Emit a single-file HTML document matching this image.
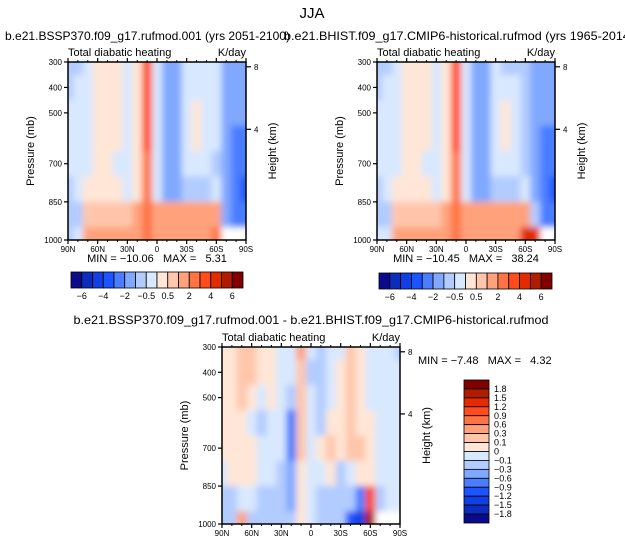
<!DOCTYPE html>
<html><head><meta charset="utf-8"><style>
html,body{margin:0;padding:0;background:#fff;}
svg{display:block;font-family:"Liberation Sans",sans-serif;}
</style></head><body>
<svg id="chart" width="625" height="545" viewBox="0 0 625 545" xmlns="http://www.w3.org/2000/svg">
<defs>
<filter id="smooth" x="-5%" y="-5%" width="110%" height="110%"><feGaussianBlur stdDeviation="3.2" edgeMode="duplicate"/></filter>
</defs>
<text x="312" y="18" font-size="15" text-anchor="middle">JJA</text>
<text x="5" y="40" font-size="12" textLength="285" lengthAdjust="spacingAndGlyphs">b.e21.BSSP370.f09_g17.rufmod.001 (yrs 2051-2100)</text>
<text x="284" y="40" font-size="12" textLength="350" lengthAdjust="spacingAndGlyphs">b.e21.BHIST.f09_g17.CMIP6-historical.rufmod (yrs 1965-2014)</text>
<text x="311" y="324" font-size="12" text-anchor="middle" textLength="475" lengthAdjust="spacingAndGlyphs">b.e21.BSSP370.f09_g17.rufmod.001 - b.e21.BHIST.f09_g17.CMIP6-historical.rufmod</text>
<g id="panels"></g>
</svg>
<script>
const latLabels = ["90N","60N","30N","0","30S","60S","90S"];
const pressureTicks = [300,400,500,700,850,1000];
const heightTicks = [8,4];
const rowPressures = [300,400,500,600,700,800,900,1000];
const fullLevels = [-6,-5,-4,-3,-2,-1,-0.5,0,0.5,1,2,3,4,5,6];
const fullLevelLabels = ["-6","-4","-2","-0.5","0.5","2","4","6"];
const diffLevels = [-1.8,-1.5,-1.2,-0.9,-0.6,-0.3,-0.1,0,0.1,0.3,0.6,0.9,1.2,1.5,1.8];
const diffLevelLabels = ["-1.8","-1.5","-1.2","-0.9","-0.6","-0.3","-0.1","0","0.1","0.3","0.6","0.9","1.2","1.5","1.8"];
const palette = ["#0a0a8c","#0c2cbc","#1040e4","#1c55ff","#4a7dff","#80a8ff","#b2ccff","#d8e8ff","#ffe6d6","#ffc6ac","#ffa27c","#ff7444","#ff4c1c","#e22c00","#b01c00","#800000"];
const futureField = [
 [-0.7,-0.7,-0.3,0.2,0.2,0.2,-0.3,0.2,3,-0.3,-1.5,-1.5,-0.3,-0.3,-0.3,-0.3,-1.2,-1.2,-1.2],
 [-0.7,-0.3,-0.3,0.2,0.2,0.2,-0.3,0.2,3.2,-0.3,-1.5,-1.5,-0.3,-0.3,-0.3,-0.3,-1.2,-1.2,-1.2],
 [-0.3,-0.3,-0.3,0.2,0.2,0.2,-0.3,0.3,3.2,-0.3,-1.5,-1.2,-0.3,0.2,-0.3,-0.3,-1.2,-1.5,-1.5],
 [-0.3,-0.3,-0.3,0.2,0.2,0.2,-0.3,0.2,3,-0.3,-1.5,-1.2,-0.3,0.2,-0.3,-0.3,-1.5,-2.5,-2.5],
 [-0.3,-0.3,-0.3,0.2,0.2,-0.3,-0.3,0.2,2.5,-0.3,-1.5,-1.5,-0.3,-0.3,-0.3,-0.7,-1.5,-2.5,-2.5],
 [-0.7,-0.3,0.3,0.3,0.2,0.2,-0.3,0.3,2.5,-0.3,-1.2,-1.2,-0.7,-0.7,-0.7,-0.3,-1.2,-2.5,-3.5],
 [-0.7,-0.7,0.7,0.7,0.7,0.7,0.7,1,2.5,1,1,1.2,1.2,1.2,1.5,1.5,-1.5,-3,-3],
 [-0.7,-0.3,1.2,1.2,1.2,1,1,1.5,2,1.5,1.5,1.5,1.5,1.5,1.5,2.5,null,null,null]];
const histField = [
 [-0.7,-0.7,-0.3,0.2,0.2,0.2,-0.3,0.2,3,-0.3,-1.5,-1.5,-0.3,-0.7,-0.7,-0.7,-1.2,-1.2,-1.2],
 [-0.7,-0.3,-0.3,0.2,0.2,0.2,-0.3,0.2,3,-0.3,-1.5,-1.5,-0.3,-0.3,-0.3,-0.7,-1.2,-1.2,-1.2],
 [-0.3,-0.3,-0.3,0.2,0.2,0.2,-0.3,0.3,3,-0.3,-1.5,-1.2,-0.3,0.2,-0.3,-0.7,-1.2,-1.5,-1.5],
 [-0.3,-0.3,-0.3,0.2,0.2,0.2,-0.3,0.2,3,-0.3,-1.5,-1.2,-0.3,0.2,-0.3,-0.7,-1.5,-2.5,-2.5],
 [-0.3,-0.3,-0.3,0.2,0.2,-0.3,-0.3,0.2,2.5,-0.3,-1.5,-1.5,-0.3,-0.3,-0.3,-0.7,-1.5,-2.5,-2.5],
 [-0.7,-0.3,0.3,0.3,0.2,0.2,-0.3,0.3,2.5,-0.3,-1.2,-1.2,-0.7,-0.7,-0.7,-0.3,-1.2,-2.5,-3.5],
 [-0.7,-0.7,0.7,0.7,0.7,0.7,0.7,1,2.5,1,1,1.2,1.2,1.2,1.5,1.5,-1,-3,-3],
 [-0.3,-0.3,1.2,1.2,1.2,1,1,1.5,2,1.5,1.5,1.5,1.5,1.5,1.5,4.5,4,null,null]];
const diffField = [
 [0.05,0.05,0.2,0.2,0.05,0.05,-0.05,-0.05,0.5,-0.05,-0.2,-0.05,-0.05,0.2,0.05,-0.05,-0.05,-0.05,-0.2],
 [0.05,0.05,0.2,0.2,0.05,0.05,-0.05,-0.05,0.2,-0.2,-0.2,-0.05,0.05,0.2,0.05,-0.05,-0.05,-0.05,-0.05],
 [0.05,0.05,0.2,0.05,-0.05,0.05,-0.05,-0.2,0.2,-0.05,-0.2,-0.05,0.05,0.2,0.05,-0.05,-0.05,-0.05,-0.05],
 [0.05,0.05,0.05,-0.05,-0.2,-0.05,-0.05,-0.7,0.2,-0.05,-0.2,0.05,0.05,0.2,0.05,0.05,-0.05,-0.05,-0.05],
 [0.05,0.05,0.05,0.05,-0.05,-0.05,-0.05,-0.7,0.2,-0.05,0.05,0.2,0.05,0.2,0.2,0.05,-0.05,-0.05,-0.05],
 [-0.05,0.05,0.05,0.05,-0.05,-0.05,-0.2,-0.5,0.05,-0.05,-0.05,0.05,-0.2,-0.05,0.05,0.05,-0.05,-0.05,-0.05],
 [-0.2,-0.2,-0.05,-0.05,-0.2,-0.2,-0.2,-0.5,0.05,-0.05,-0.2,-0.2,-0.2,-0.2,-0.7,1,-0.2,-0.05,-0.05],
 [-0.2,-0.2,0.5,-0.2,-0.2,-0.2,-0.2,-0.3,0.05,-0.05,-0.2,-0.2,-0.2,-1,-1.5,1.5,null,null,null]];
const statsFuture = ["-10.06","5.31"];
const statsHist = ["-10.45","38.24"];
const statsDiff = ["-7.48","4.32"];

const NS="http://www.w3.org/2000/svg";
const root=document.getElementById('panels');
function mk(tag,attrs,parent){const e=document.createElementNS(NS,tag);for(const k in attrs)e.setAttribute(k,attrs[k]);(parent||root).appendChild(e);return e;}
function colorFor(v,levels){let i=0;while(i<levels.length&&v>=levels[i])i++;return palette[i];}

function drawPanel(id,x0,y0,w,h,field,levels){
  const g=mk('g',{});
  
  
  const xS=lat=>x0+(90-lat)/180*w;
  const yS=p=>y0+(p-300)/700*h;
  const clip=mk('clipPath',{id:id+'-clip'},g);
  mk('rect',{x:x0,y:y0,width:w,height:h},clip);
  const outer=mk('g',{'clip-path':'url(#'+id+'-clip)'},g);
  mk('rect',{x:x0,y:y0,width:w,height:h,fill:'#d8e8ff'},outer);
  const cg=mk('g',{filter:'url(#smooth)'},outer);
  
  
  const nCols=field[0].length;
  const dLat=180/(nCols-1);
  for(let r=0;r<field.length;r++){
    for(let c=0;c<nCols;c++){
      const v=field[r][c];
      const lat=90-c*dLat;
      const xa=xS(lat+dLat/2), xb=xS(lat-dLat/2);
      const ya=yS(rowPressures[r]-50), yb=yS(rowPressures[r]+50);
      const cell=mk('rect',{x:xa,y:ya,width:xb-xa+0.6,height:yb-ya+0.6,fill:v===null?'#ffffff':colorFor(v,levels)},cg);
      
      
    }
  }
  const frame=mk('rect',{x:x0,y:y0,width:w,height:h,fill:'none',stroke:'#000','stroke-width':1.5},g);
  
  
  latLabels.forEach((lab,i)=>{
    const x=x0+i*w/6;
    mk('line',{x1:x,x2:x,y1:y0+h,y2:y0+h+4,stroke:'#000','stroke-width':1.2},g);
    mk('line',{x1:x,x2:x,y1:y0,y2:y0-4,stroke:'#000','stroke-width':1.2},g);
    const t=mk('text',{x:x,y:y0+h+12,'font-size':8,'text-anchor':'middle'},g);
    t.textContent=lab;
    
    
    if(i<6)for(let k=1;k<3;k++){const xm=x+k*w/18;
      mk('line',{x1:xm,x2:xm,y1:y0+h,y2:y0+h+2,stroke:'#000'},g);
      mk('line',{x1:xm,x2:xm,y1:y0,y2:y0-2,stroke:'#000'},g);}
  });
  pressureTicks.forEach(p=>{
    const y=yS(p);
    mk('line',{x1:x0,x2:x0-4,y1:y,y2:y,stroke:'#000','stroke-width':1.2},g);
    const t=mk('text',{x:x0-6,y:y+3,'font-size':8,'text-anchor':'end'},g);
    t.textContent=p;
    
    
  });
  heightTicks.forEach(km=>{
    const p=1000*Math.exp(-km/7);
    const y=yS(p);
    mk('line',{x1:x0+w,x2:x0+w+5,y1:y,y2:y,stroke:'#000','stroke-width':1.2},g);
    const t=mk('text',{x:x0+w+8,y:y+3,'font-size':8},g);
    t.textContent=km;
    
    
  });
  const yl=mk('text',{x:0,y:0,'font-size':11,'text-anchor':'middle',transform:`translate(${x0-34},${y0+h/2}) rotate(-90)`},g);
  yl.textContent='Pressure (mb)';
  
  
  const hl=mk('text',{x:0,y:0,'font-size':11,'text-anchor':'middle',transform:`translate(${x0+w+30},${y0+h/2}) rotate(-90)`},g);
  hl.textContent='Height (km)';
  
  
  const lt=mk('text',{x:x0,y:y0-6,'font-size':11},g);
  lt.textContent='Total diabatic heating';
  
  
  const ut=mk('text',{x:x0+w,y:y0-6,'font-size':11,'text-anchor':'end'},g);
  ut.textContent='K/day';
  
  
}

function hColorbar(id,x0,y0,w,h){
  const g=mk('g',{});
  
  
  const bw=w/palette.length;
  palette.forEach((c,i)=>{
    const b=mk('rect',{x:x0+i*bw,y:y0,width:bw,height:h,fill:c,stroke:'#000','stroke-width':0.8},g);
    
    
  });
  fullLevels.forEach((lv,i)=>{
    if(i%2===0){const t=mk('text',{x:x0+(i+1)*bw,y:y0+h+11,'font-size':9,'text-anchor':'middle'},g);
      t.textContent=fullLevelLabels[i/2].replace('-','\u2212');
      
      }
  });
}
function vColorbar(id,x0,y0,w,h){
  const g=mk('g',{});
  
  
  const bh=h/palette.length;
  palette.slice().reverse().forEach((c,i)=>{
    const b=mk('rect',{x:x0,y:y0+i*bh,width:w,height:bh,fill:c,stroke:'#000','stroke-width':0.8},g);
    
    
  });
  diffLevelLabels.slice().reverse().forEach((lab,i)=>{
    const t=mk('text',{x:x0+w+5,y:y0+(i+1)*bh+3,'font-size':9},g);
    t.textContent=lab.replace('-','\u2212');
    
    
  });
}
function statText(x,y,s,anchor){
  const t=mk('text',{x:x,y:y,'font-size':11,'text-anchor':anchor,style:'white-space:pre'});
  t.textContent='MIN = '+s[0].replace('-','\u2212')+'   MAX =   '+s[1];
  
  
}

drawPanel('future',68,62,178,178,futureField,fullLevels);
statText(157,262,statsFuture,'middle');
hColorbar('future-colorbar',71,272,172,16);
drawPanel('historical',377,62,178,178,histField,fullLevels);
statText(466,262,statsHist,'middle');
hColorbar('historical-colorbar',379,273,173,16);
drawPanel('difference',222,347,178,177,diffField,diffLevels);
statText(418,364,statsDiff,'start');
vColorbar('difference-colorbar',464,380,25,143);
</script>
</body></html>
